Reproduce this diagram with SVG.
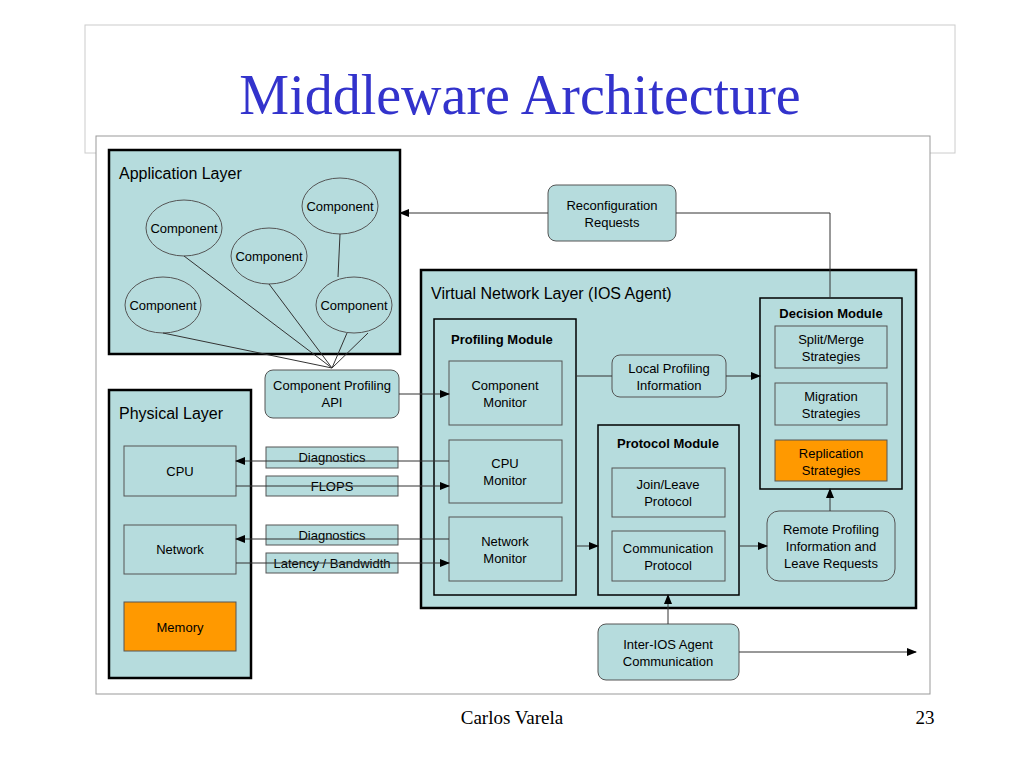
<svg xmlns="http://www.w3.org/2000/svg" width="1024" height="768" viewBox="0 0 1024 768">
<style>
.t{font-family:"Liberation Sans",Arial,sans-serif;font-size:13px;fill:#000;text-anchor:middle}
.h{font-family:"Liberation Sans",Arial,sans-serif;font-weight:bold;font-size:13px;fill:#000}
.big{font-family:"Liberation Sans",Arial,sans-serif;font-size:16px;fill:#000}
.lay{fill:#b6dcdd;stroke:#000;stroke-width:2.5}
.mod{fill:#b6dcdd;stroke:#000;stroke-width:1.5}
.box{fill:#b6dcdd;stroke:#555;stroke-width:1}
.org{fill:#ff9900;stroke:#555;stroke-width:1}
.ln{stroke:#333;stroke-width:1;fill:none}
</style>
<defs><marker id="a" markerWidth="10" markerHeight="8" refX="9" refY="4" orient="auto" markerUnits="userSpaceOnUse"><path d="M0,0L10,4L0,8z" fill="#000"/></marker></defs>
<rect x="0" y="0" width="1024" height="768" fill="#fff"/>
<rect x="85" y="25" width="870" height="128" fill="none" stroke="#ccc"/>
<text x="520" y="114" font-family="Liberation Serif,serif" font-size="56" fill="#3333cc" text-anchor="middle">Middleware Architecture</text>
<rect x="96" y="136" width="834" height="558" fill="#fff" stroke="#999"/>
<g id="app"><rect class="lay" x="109" y="150" width="291" height="204"/><text class="big" x="119" y="179">Application Layer</text></g>
<g id="c1"><ellipse class="box" cx="340" cy="206" rx="38" ry="28"/><text class="t" x="340" y="211">Component</text></g>
<g id="c2"><ellipse class="box" cx="184" cy="228" rx="38" ry="28"/><text class="t" x="184" y="233">Component</text></g>
<g id="c3"><ellipse class="box" cx="269" cy="256" rx="38" ry="28"/><text class="t" x="269" y="261">Component</text></g>
<g id="c4"><ellipse class="box" cx="163" cy="305" rx="38" ry="28"/><text class="t" x="163" y="310">Component</text></g>
<g id="c5"><ellipse class="box" cx="354" cy="305" rx="38" ry="28"/><text class="t" x="354" y="310">Component</text></g>
<g id="api"><rect class="box" x="265" y="370" width="134" height="48" rx="8"/><text class="t" x="332" y="390">Component Profiling</text><text class="t" x="332" y="407">API</text></g>
<g id="phys"><rect class="lay" x="109" y="390" width="142" height="288"/><text class="big" x="119" y="419">Physical Layer</text></g>
<g id="cpu"><rect class="box" x="124" y="446" width="112" height="50"/><text class="t" x="180" y="476">CPU</text></g>
<g id="net"><rect class="box" x="124" y="525" width="112" height="49"/><text class="t" x="180" y="554">Network</text></g>
<g id="mem"><rect class="org" x="124" y="602" width="112" height="49"/><text class="t" x="180" y="632">Memory</text></g>
<g id="d1"><rect class="box" x="266" y="447" width="132" height="21"/><text class="t" x="332" y="462">Diagnostics</text></g>
<g id="fl"><rect class="box" x="266" y="476" width="132" height="20"/><text class="t" x="332" y="491">FLOPS</text></g>
<g id="d2"><rect class="box" x="266" y="525" width="132" height="20"/><text class="t" x="332" y="540">Diagnostics</text></g>
<g id="lat"><rect class="box" x="266" y="553" width="132" height="20"/><text class="t" x="332" y="568">Latency / Bandwidth</text></g>
<g id="rec"><rect class="box" x="548" y="185" width="128" height="56" rx="8"/><text class="t" x="612" y="210">Reconfiguration</text><text class="t" x="612" y="227">Requests</text></g>
<g id="vnl"><rect class="lay" x="421" y="270" width="495" height="338"/><text class="big" x="431" y="299">Virtual Network Layer (IOS Agent)</text></g>
<g id="prof"><rect class="mod" x="434" y="319" width="142" height="276"/><text class="h" x="451" y="344">Profiling Module</text></g>
<g id="cm"><rect class="box" x="449" y="361" width="113" height="64"/><text class="t" x="505" y="390">Component</text><text class="t" x="505" y="407">Monitor</text></g>
<g id="cpum"><rect class="box" x="449" y="440" width="113" height="63"/><text class="t" x="505" y="468">CPU</text><text class="t" x="505" y="485">Monitor</text></g>
<g id="nm"><rect class="box" x="449" y="517" width="113" height="64"/><text class="t" x="505" y="546">Network</text><text class="t" x="505" y="563">Monitor</text></g>
<g id="lpi"><rect class="box" x="612" y="355" width="114" height="42" rx="8"/><text class="t" x="669" y="373">Local Profiling</text><text class="t" x="669" y="390">Information</text></g>
<g id="dec"><rect class="mod" x="760" y="298" width="142" height="191"/><text class="h" x="831" y="318" text-anchor="middle">Decision Module</text></g>
<g id="sm"><rect class="box" x="775" y="326" width="112" height="42"/><text class="t" x="831" y="344">Split/Merge</text><text class="t" x="831" y="361">Strategies</text></g>
<g id="mig"><rect class="box" x="775" y="383" width="112" height="42"/><text class="t" x="831" y="401">Migration</text><text class="t" x="831" y="418">Strategies</text></g>
<g id="rep"><rect class="org" x="775" y="440" width="112" height="41"/><text class="t" x="831" y="458">Replication</text><text class="t" x="831" y="475">Strategies</text></g>
<g id="pm"><rect class="mod" x="598" y="425" width="141" height="170"/><text class="h" x="668" y="448" text-anchor="middle">Protocol Module</text></g>
<g id="jl"><rect class="box" x="612" y="468" width="113" height="49"/><text class="t" x="668" y="489">Join/Leave</text><text class="t" x="668" y="506">Protocol</text></g>
<g id="cp"><rect class="box" x="612" y="531" width="113" height="50"/><text class="t" x="668" y="553">Communication</text><text class="t" x="668" y="570">Protocol</text></g>
<g id="rpi"><rect class="box" x="767" y="511" width="128" height="70" rx="12"/><text class="t" x="831" y="534">Remote Profiling</text><text class="t" x="831" y="551">Information and</text><text class="t" x="831" y="568">Leave Requests</text></g>
<g id="inter"><rect class="box" x="598" y="624" width="141" height="56" rx="8"/><text class="t" x="668" y="649">Inter-IOS Agent</text><text class="t" x="668" y="666">Communication</text></g>
<g id="connectors">
<path class="ln" d="M163,333L332,368M184,256L332,368M269,284L332,368M340,234L338,277M347,333L332,368M368,333L332,368"/>
<path class="ln" d="M399,394H449" marker-end="url(#a)"/>
<path class="ln" d="M449,461H236" marker-end="url(#a)"/>
<path class="ln" d="M236,486H449" marker-end="url(#a)"/>
<path class="ln" d="M449,539H236" marker-end="url(#a)"/>
<path class="ln" d="M236,563H449" marker-end="url(#a)"/>
<path class="ln" d="M548,213H400" marker-end="url(#a)"/>
<path class="ln" d="M676,213H830V298"/>
<path class="ln" d="M576,376H612"/>
<path class="ln" d="M726,376H760" marker-end="url(#a)"/>
<path class="ln" d="M576,546H598" marker-end="url(#a)"/>
<path class="ln" d="M739,546H767" marker-end="url(#a)"/>
<path class="ln" d="M830,511V489" marker-end="url(#a)"/>
<path class="ln" d="M668,624V595" marker-end="url(#a)"/>
<path class="ln" d="M739,652H916" marker-end="url(#a)"/>
</g>
<text x="512" y="724" font-family="Liberation Serif,serif" font-size="19" text-anchor="middle">Carlos Varela</text>
<text x="925" y="724" font-family="Liberation Serif,serif" font-size="19" text-anchor="middle">23</text>
</svg>
